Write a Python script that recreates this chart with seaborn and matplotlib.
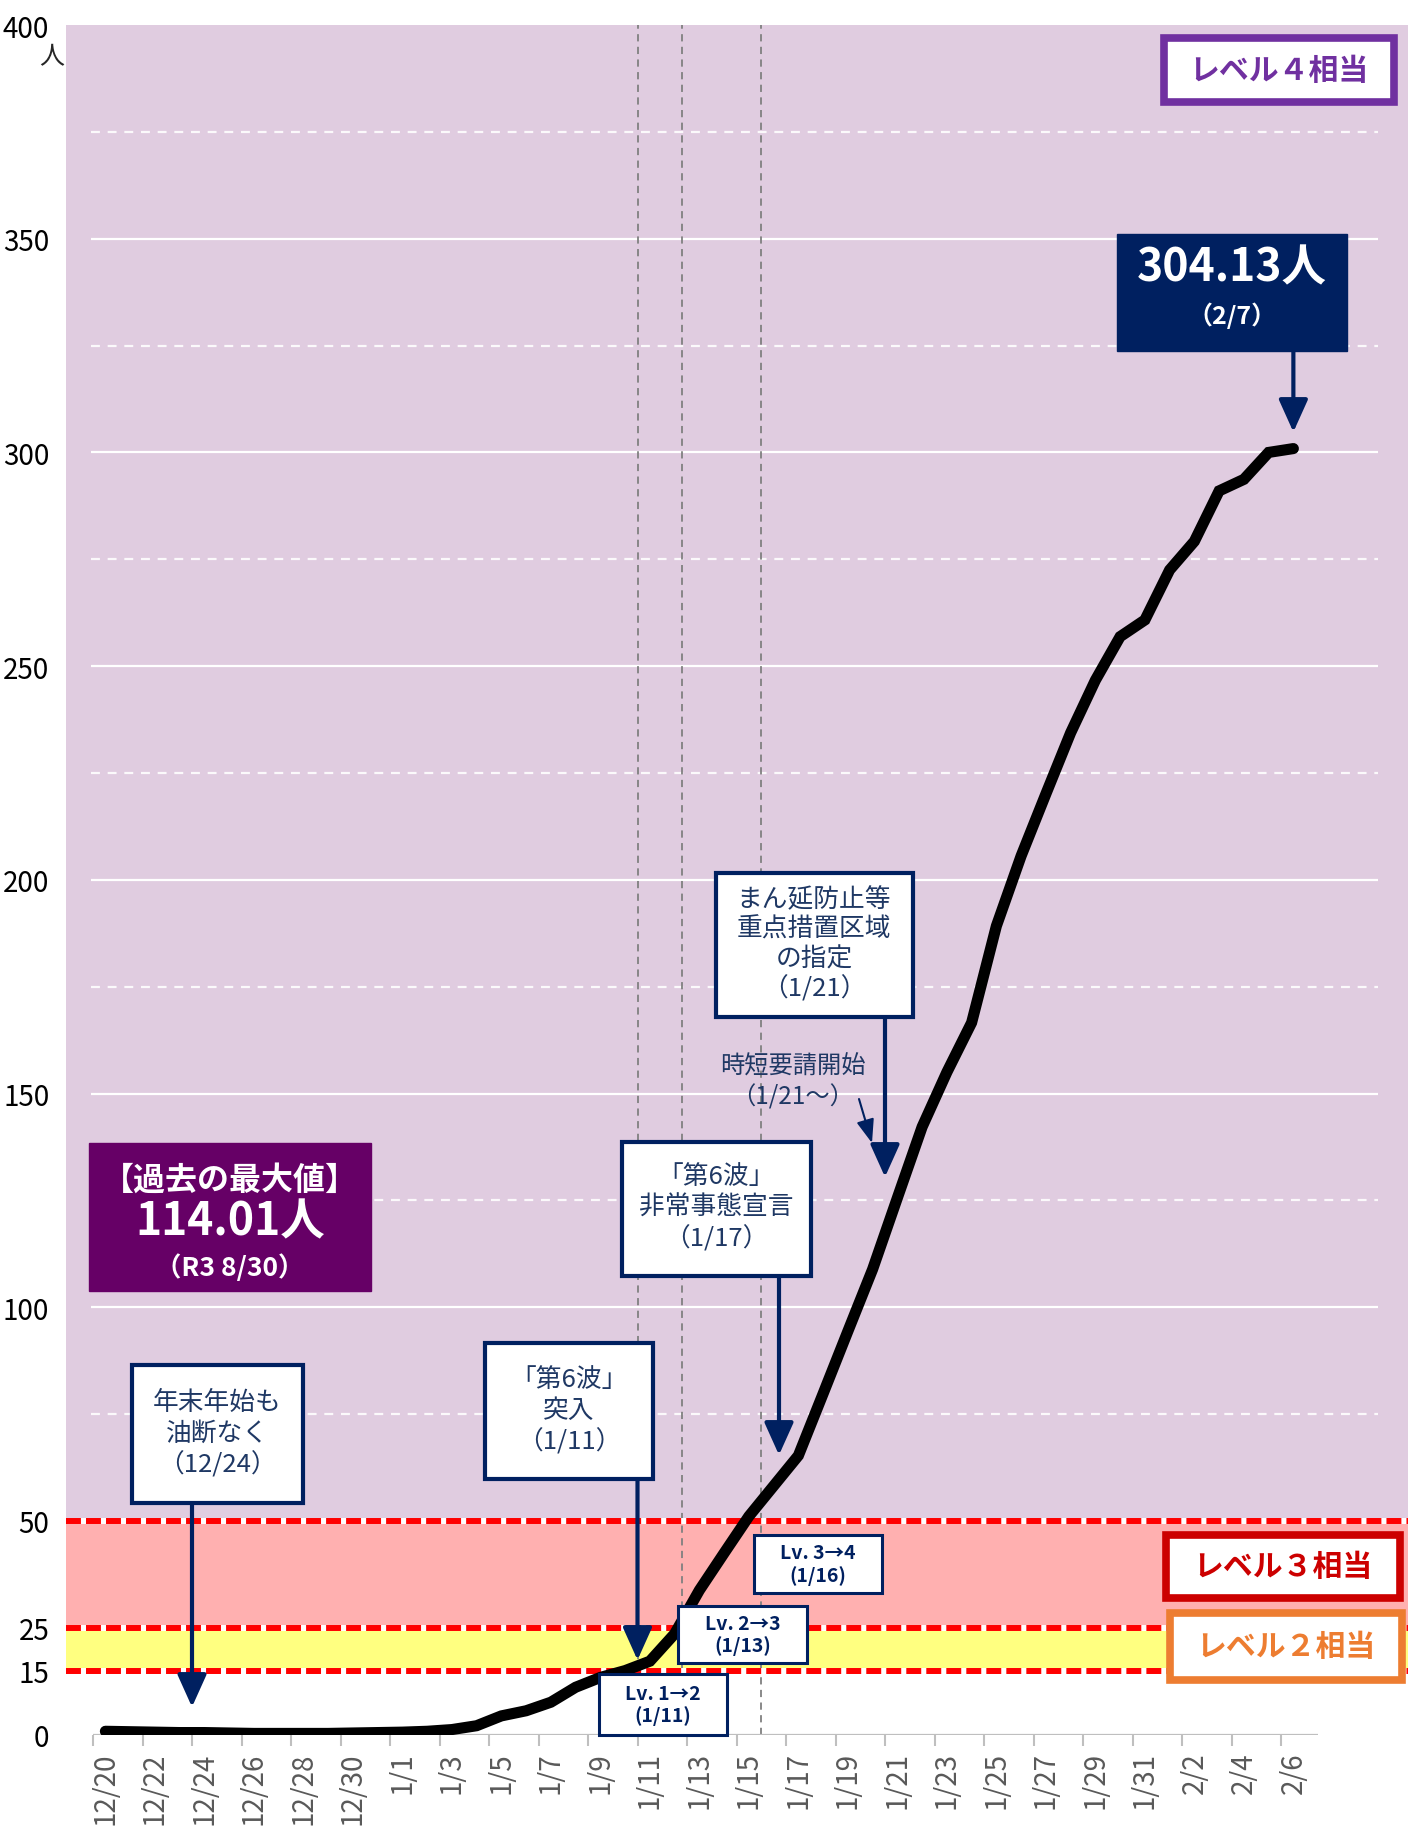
import numpy as np
import matplotlib
matplotlib.use("Agg")
import matplotlib.pyplot as plt
import seaborn as sns
from matplotlib.patches import Rectangle

# ---------------- data ----------------
categories = ([f"12/{d}" for d in range(20, 32)] + [f"1/{d}" for d in range(1, 32)]
              + [f"2/{d}" for d in range(1, 8)])          # 12/20 .. 2/7
values = [0.8, 0.7, 0.6, 0.5, 0.5, 0.4, 0.3, 0.3, 0.3, 0.3,
          0.4, 0.5, 0.6, 0.8, 1.2, 2.1, 4.4, 5.6, 7.6, 11.1,
          13.4, 15.0, 17.2, 23.6, 33.8, 42.5, 51.1, 58.2, 65.3, 79.8,
          94.4, 108.9, 125.6, 142.2, 155.0, 166.6, 189.2, 205.6, 220.1, 234.4,
          246.7, 256.9, 260.8, 272.5, 279.2, 291.0, 293.7, 300.0, 300.9]
tick_labels = categories[0:49:2]
ytick_values = [0, 15, 25, 50, 100, 150, 200, 250, 300, 350, 400]
level_lines = [15, 25, 50]
solid_grid = [100, 150, 200, 250, 300, 350]
dashed_grid = [75, 125, 175, 225, 275, 325, 375]

# ---------------- style ----------------
sns.set_theme(style="white")
plt.rcParams["font.family"] = ["Noto Sans CJK JP", "DejaVu Sans"]

NAVY = "#002060"
TNAVY = "#1F3864"
LAV = "#E0CCE0"
PINK = "#FFB0B0"
YEL = "#FFFF80"

W, H = 1408, 1833
fig = plt.figure(figsize=(W / 100, H / 100), dpi=100)
fig.patch.set_facecolor("white")

X0, PX_DAY = 93.0, 24.75
Y0, PX_UNIT = 1735.7, 4.2743


def X(px):
    return (px - X0) / PX_DAY - 0.5


def Y(py):
    return (Y0 - py) / PX_UNIT


ax = fig.add_axes([66 / W, (H - Y0) / H, (W - 66) / W, (Y0 - 26) / H])
ax.set_xlim(X(66), X(W))
ax.set_ylim(0, 400)
ax.set_facecolor("white")
for s in ax.spines.values():
    s.set_visible(False)

# bands
ax.axhspan(50, 400, color=LAV, lw=0, zorder=0)
ax.axhspan(25, 50, color=PINK, lw=0, zorder=0)
ax.axhspan(15, 25, color=YEL, lw=0, zorder=0)

# grid
ax.hlines(solid_grid, X(91), X(1378), color="white", lw=1.6, zorder=1)
ax.hlines(dashed_grid + [25], X(91), X(1378), color="white", lw=1.6,
          linestyles=(0, (4, 3.5)), zorder=1, alpha=0.9)

# vertical event lines (1/11, 1/13, 1/16)
for xi in [categories.index("1/11") - 0.5, X(682), categories.index("1/16") - 0.5]:
    ax.vlines(xi, 0, 400, color="#808080", lw=1.3, linestyles=(0, (4, 3)), zorder=2)

# level lines
for v in level_lines:
    ax.axhline(v, color="white", lw=4.3, zorder=3)
    ax.axhline(v, color="#FF0000", lw=4.3, ls=(0, (2.5, 0.85)), zorder=3.1)

# axis line and ticks
ax.hlines(0, -0.5, 49.0, color="#BFBFBF", lw=1.6, zorder=4)
ax.set_xticks(np.arange(0, 49, 2))
ax.set_xticklabels(tick_labels)
ax.set_xticks(np.arange(-0.5, 48, 2), minor=True)
ax.tick_params(axis="x", which="major", length=0, pad=12, labelsize=20,
               labelcolor="#595959", rotation=90)
ax.tick_params(axis="x", which="minor", length=8, width=1.5, color="#BFBFBF",
               direction="out", bottom=True)
ax.set_yticks(ytick_values)
ax.set_yticklabels([str(v) for v in ytick_values])
ax.tick_params(axis="y", length=0, pad=12, labelsize=20, labelcolor="black")

# main line
sns.lineplot(x=np.arange(len(values)), y=values, ax=ax, color="black", lw=8,
             zorder=5, legend=False, solid_capstyle="round", solid_joinstyle="miter")

fig.text(52 / W, 1 - 57 / H, "人", fontsize=18, ha="center", va="center")


# ---------------- annotations ----------------
def box(x0, y0, x1, y1, fc, ec, lw, z=7):
    ax.add_patch(Rectangle((X(x0), Y(y1)), X(x1) - X(x0), Y(y0) - Y(y1),
                           facecolor=fc, edgecolor=ec, lw=lw, zorder=z, clip_on=False))


def txt(cx, cy, s, size, color, weight="normal", ls=1.2, z=8):
    ax.text(X(cx), Y(cy), s, ha="center", va="center", fontsize=size, color=color,
            fontweight=weight, linespacing=ls, zorder=z, clip_on=False)


def arrow(x, y_tail, y_tip, lw=3, ms=20, hl=1.0, hw=0.45, x_tip=None):
    if x_tip is None:
        x_tip = x
    ax.annotate("", xy=(x_tip, y_tip), xytext=(x, y_tail),
                arrowprops=dict(arrowstyle=f"-|>,head_length={hl},head_width={hw}",
                                mutation_scale=ms, lw=lw, color=NAVY,
                                shrinkA=0, shrinkB=0),
                zorder=8, annotation_clip=False)


# level labels
box(1164, 39, 1394, 103, "white", "#7030A0", 5.5)
txt(1279, 71, "レベル４相当", 21.5, "#7030A0", "bold")
box(1166, 1536, 1400, 1599, "white", "#CC0000", 5.5)
txt(1283, 1567, "レベル３相当", 21.5, "#CC0000", "bold")
box(1170, 1614, 1402, 1681, "white", "#ED7D31", 5.5)
txt(1286, 1647, "レベル２相当", 21.5, "#ED7D31", "bold")

# latest value
box(1117, 235, 1347, 352, NAVY, NAVY, 1)
txt(1232, 268, "304.13人", 32, "white", "bold")
txt(1232, 316, "（2/7）", 18, "white", "bold")
arrow(len(values) - 1, Y(352), Y(433))

# past max
box(89, 1144, 371, 1292, "#660066", "#660066", 1)
txt(230, 1181, "【過去の最大値】", 23, "white", "bold")
txt(230, 1222, "114.01人", 32, "white", "bold")
txt(230, 1268, "（R3 8/30）", 19, "white", "bold")

# callouts
box(132, 1366, 303, 1504, "white", NAVY, 3)
txt(217, 1434, "年末年始も\n油断なく\n（12/24）", 18.5, TNAVY, ls=1.25)
arrow(categories.index("12/24") - 0.5, Y(1504), Y(1708))

box(485, 1344, 653, 1480, "white", NAVY, 3)
txt(569, 1411, "「第6波」\n突入\n（1/11）", 18.5, TNAVY, ls=1.25)
arrow(categories.index("1/11") - 0.5, Y(1480), Y(1661))

box(622, 1143, 811, 1277, "white", NAVY, 3)
txt(716, 1208, "「第6波」\n非常事態宣言\n（1/17）", 18.5, TNAVY, ls=1.25)
arrow(X(779), Y(1277), Y(1456))

box(716, 874, 913, 1018, "white", NAVY, 3)
txt(814, 945, "まん延防止等\n重点措置区域\nの指定\n（1/21）", 18.5, TNAVY, ls=1.18)
arrow(categories.index("1/21") - 0.5, Y(1018), Y(1178))

txt(793, 1082, "時短要請開始\n（1/21～）", 17.5, TNAVY, ls=1.2)
arrow(X(859), Y(1100), Y(1144), lw=1.5, ms=12, hl=1.2, hw=0.45, x_tip=X(872))

# level change boxes
for (x0, y0, x1, y1, s) in [(599, 1675, 727, 1736, "Lv. 1→2\n(1/11)"),
                            (678, 1607, 807, 1664, "Lv. 2→3\n(1/13)"),
                            (754, 1536, 882, 1594, "Lv. 3→4\n(1/16)")]:
    box(x0, y0, x1, y1, "white", NAVY, 2.2)
    txt((x0 + x1) / 2, (y0 + y1) / 2, s, 14, NAVY, "bold", ls=1.15)

fig.savefig("out.png", dpi=100)
